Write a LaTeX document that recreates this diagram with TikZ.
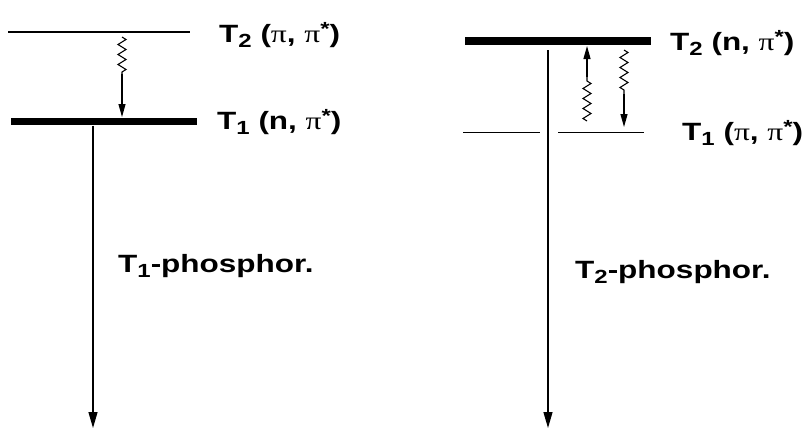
\documentclass[tikz,border=0pt]{standalone}
\usepackage{fontspec}
\setmainfont{Liberation Sans}
\newfontfamily\pifont{Liberation Serif}
\usetikzlibrary{arrows.meta,decorations.pathmorphing}
\tikzset{
  thinlevel/.style={line width=1.4pt},
  thicklevel/.style={line width=7.5pt},
  arr/.style={line width=1.3pt,-{Triangle[length=16pt,width=9pt]}},
  warr/.style={line width=1.2pt,-{Triangle[length=13pt,width=7pt]}},
  wig/.style={line width=1.1pt,decorate,decoration={zigzag,segment length=10pt,amplitude=4pt}},
  lab/.style={font=\fontsize{25}{28}\selectfont\bfseries,anchor=base west,inner sep=0pt}
}
\newcommand{\lsub}[1]{\raisebox{-5pt}{\fontsize{19}{19}\selectfont #1}}
\newcommand{\lstar}{\raisebox{7pt}{\fontsize{19}{19}\selectfont *}}
\newcommand{\ppi}{{\pifont\mdseries π}}
\newcommand{\wide}[1]{\scalebox{1.26}[1]{#1}}
\begin{document}
\begin{tikzpicture}[x=1pt,y=-1pt]
\useasboundingbox (0,0) rectangle (812,429);
% left diagram
\coordinate (lT2a) at (8,32); \coordinate (lT2b) at (190,32);
\coordinate (lT1a) at (11,121.5); \coordinate (lT1b) at (197,121.5);
\draw[thinlevel] (lT2a) -- (lT2b);
\draw[thicklevel] (lT1a) -- (lT1b);
\node[lab] (lt2) at (219,42) {\wide{T\lsub{2} (\ppi, \ppi\lstar)}};
\node[lab] (lt1) at (217,129) {\wide{T\lsub{1} (n, \ppi\lstar)}};
\coordinate (lw0) at (122,37); \coordinate (lw1) at (122,74); \coordinate (lw2) at (122,117);
\draw[wig] (lw0) -- (lw1);
\draw[warr] (lw1) -- (lw2);
\coordinate (lp0) at (93,125.5); \coordinate (lp1) at (93,428);
\draw[arr] (lp0) -- (lp1);
\node[lab] (lph) at (118,272) {\wide{T\lsub{1}-phosphor.}};
% right diagram
\coordinate (rT2a) at (465,41); \coordinate (rT2b) at (651,41);
\draw[thicklevel] (rT2a) -- (rT2b);
\coordinate (rT1a) at (463,132.5); \coordinate (rT1b) at (540,132.5);
\coordinate (rT1c) at (558,132.5); \coordinate (rT1d) at (644,132.5);
\draw[thinlevel] (rT1a) -- (rT1b);
\draw[thinlevel] (rT1c) -- (rT1d);
\node[lab] (rt2) at (670,50) {\wide{T\lsub{2} (n, \ppi\lstar)}};
\node[lab] (rt1) at (682,140) {\wide{T\lsub{1} (\ppi, \ppi\lstar)}};
\coordinate (rp0) at (548,50); \coordinate (rp1) at (548,428);
\draw[arr] (rp0) -- (rp1);
\coordinate (ru0) at (587,121); \coordinate (ru1) at (587,77); \coordinate (ru2) at (587,46);
\draw[wig] (ru0) -- (ru1);
\draw[warr] (ru1) -- (ru2);
\coordinate (rd0) at (624,50); \coordinate (rd1) at (624,94); \coordinate (rd2) at (624,127);
\draw[wig] (rd0) -- (rd1);
\draw[warr] (rd1) -- (rd2);
\node[lab] (rph) at (575,278) {\wide{T\lsub{2}-phosphor.}};
\end{tikzpicture}
\end{document}
